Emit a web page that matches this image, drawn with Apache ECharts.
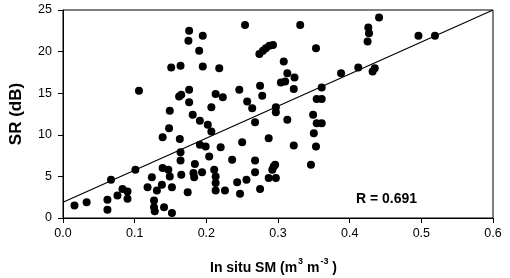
<!DOCTYPE html>
<html>
<head>
<meta charset="utf-8">
<script src="https://cdn.jsdelivr.net/npm/echarts@6/dist/echarts.min.js"></script>
<style>
  html, body { margin: 0; padding: 0; background: #fff; }
  #chart { width: 510px; height: 278px; }
</style>
</head>
<body>
<div id="chart"></div>
<script>
// In situ soil moisture (m3 m-3) vs SR (dB)
const smValues = [
  0.016, 0.033, 0.062, 0.062, 0.067, 0.076, 0.083, 0.090, 0.090, 0.101,
  0.106, 0.118, 0.124, 0.127, 0.127, 0.128, 0.131, 0.138, 0.139, 0.139,
  0.141, 0.148, 0.149, 0.147, 0.149, 0.152, 0.152, 0.151, 0.164, 0.162,
  0.165, 0.163, 0.164, 0.164, 0.165, 0.174, 0.176, 0.175, 0.176, 0.176,
  0.181, 0.183, 0.182, 0.184, 0.191, 0.191, 0.190, 0.195, 0.195, 0.194,
  0.199, 0.202, 0.204, 0.207, 0.207, 0.211, 0.213, 0.213, 0.213, 0.213,
  0.218, 0.220, 0.223, 0.226, 0.236, 0.243, 0.246, 0.247, 0.250, 0.254,
  0.256, 0.257, 0.264, 0.268, 0.268, 0.268, 0.274, 0.279, 0.283, 0.288,
  0.293, 0.275, 0.278, 0.275, 0.287, 0.287, 0.292, 0.294, 0.296, 0.297,
  0.297, 0.297, 0.304, 0.310, 0.308, 0.313, 0.313, 0.322, 0.323, 0.322,
  0.331, 0.346, 0.349, 0.350, 0.353, 0.353, 0.354, 0.361, 0.354, 0.361,
  0.361, 0.388, 0.412, 0.432, 0.435, 0.425, 0.427, 0.426, 0.441, 0.496,
  0.519
];
const srValues = [
  1.5, 1.9, 2.2, 1.0, 4.6, 2.7, 3.5, 3.2, 2.3, 5.8,
  15.3, 3.7, 4.9, 2.1, 1.3, 0.8, 3.3, 4.0, 6.0, 9.7,
  1.3, 10.8, 12.9, 5.8, 5.0, 3.7, 0.6, 18.1, 18.3, 14.6,
  14.8, 9.5, 7.9, 6.9, 5.2, 3.1, 22.5, 21.3, 15.4, 13.9,
  12.4, 4.9, 5.4, 6.5, 11.7, 8.8, 20.1, 21.9, 18.2, 5.5,
  8.6, 11.2, 7.4, 10.4, 13.3, 5.8, 5.0, 4.2, 3.3, 14.9,
  18.0, 8.5, 14.5, 3.3, 7.0, 4.3, 15.4, 2.9, 9.1, 23.2,
  4.6, 14.0, 13.2, 11.5, 6.9, 5.5, 19.7, 20.1, 20.4, 20.7,
  20.8, 15.9, 14.7, 3.5, 9.6, 4.8, 5.8, 6.2, 6.4, 4.8,
  13.3, 12.7, 16.3, 16.4, 18.8, 17.4, 11.8, 15.5, 16.9, 8.7,
  23.2, 6.4, 12.4, 10.2, 8.6, 20.4, 14.3, 14.3, 11.4, 11.4,
  15.7, 17.4, 18.1, 17.6, 18.0, 21.2, 22.2, 22.9, 24.1, 21.9,
  21.9
];
// regression line end points
const fitX = [0, 0.6];
const fitY = [1.9, 25];

const xTicks = [0, 0.1, 0.2, 0.3, 0.4, 0.5, 0.6];
const yTicks = [0, 5, 10, 15, 20, 25];

const chart = echarts.init(document.getElementById('chart'), null, { renderer: 'canvas' });

const font = '"Liberation Sans", Arial, sans-serif';

chart.setOption({
  animation: false,
  backgroundColor: '#fff',
  grid: {
    left: 61, right: 17, top: 10, bottom: 60,
    show: true, borderColor: '#000', borderWidth: 1, backgroundColor: 'transparent'
  },
  xAxis: {
    type: 'value',
    min: 0, max: 0.6, interval: 0.1,
    axisLine: { show: true, lineStyle: { color: '#000', width: 1 } },
    axisTick: { show: true, length: 5, lineStyle: { color: '#000' } },
    splitLine: { show: false },
    axisLabel: {
      margin: 9, color: '#000', fontSize: 12.5, fontFamily: font,
      formatter: v => v.toFixed(1)
    }
  },
  yAxis: {
    type: 'value',
    min: 0, max: 25, interval: 5,
    name: 'SR (dB)',
    nameLocation: 'middle',
    nameGap: 38,
    nameTextStyle: { color: '#000', fontSize: 17, fontWeight: 'bold', fontFamily: font },
    axisLine: { show: true, lineStyle: { color: '#000', width: 1 } },
    axisTick: { show: true, length: 5, lineStyle: { color: '#000' } },
    splitLine: { show: false },
    axisLabel: { margin: 11, color: '#000', fontSize: 12.5, fontFamily: font }
  },
  series: [
    {
      type: 'scatter',
      data: smValues.map((x, i) => [x, srValues[i]]),
      symbol: 'circle',
      symbolSize: 8,
      itemStyle: { color: '#000', opacity: 1 }
    },
    {
      type: 'line',
      data: fitX.map((x, i) => [x, fitY[i]]),
      showSymbol: false,
      lineStyle: { color: '#000', width: 1.2 },
      z: 1
    }
  ],
  graphic: [
    {
      type: 'text',
      left: 356, top: 192,
      style: {
        text: 'R = 0.691',
        fill: '#000',
        font: 'bold 14px ' + font
      }
    },
    {
      type: 'text',
      left: 210, top: 257,
      style: {
        text: '{b|In situ SM (m}{s|3}{b| m}{s|-3}{b| )}',
        fill: '#000',
        rich: {
          b: { fontSize: 14, fontWeight: 'bold', fontFamily: font, fill: '#000', verticalAlign: 'bottom', lineHeight: 18 },
          s: { fontSize: 9, fontWeight: 'bold', fontFamily: font, fill: '#000', verticalAlign: 'top', lineHeight: 18, padding: [0, 0, 8, 1] }
        }
      }
    }
  ]
});
</script>
</body>
</html>
